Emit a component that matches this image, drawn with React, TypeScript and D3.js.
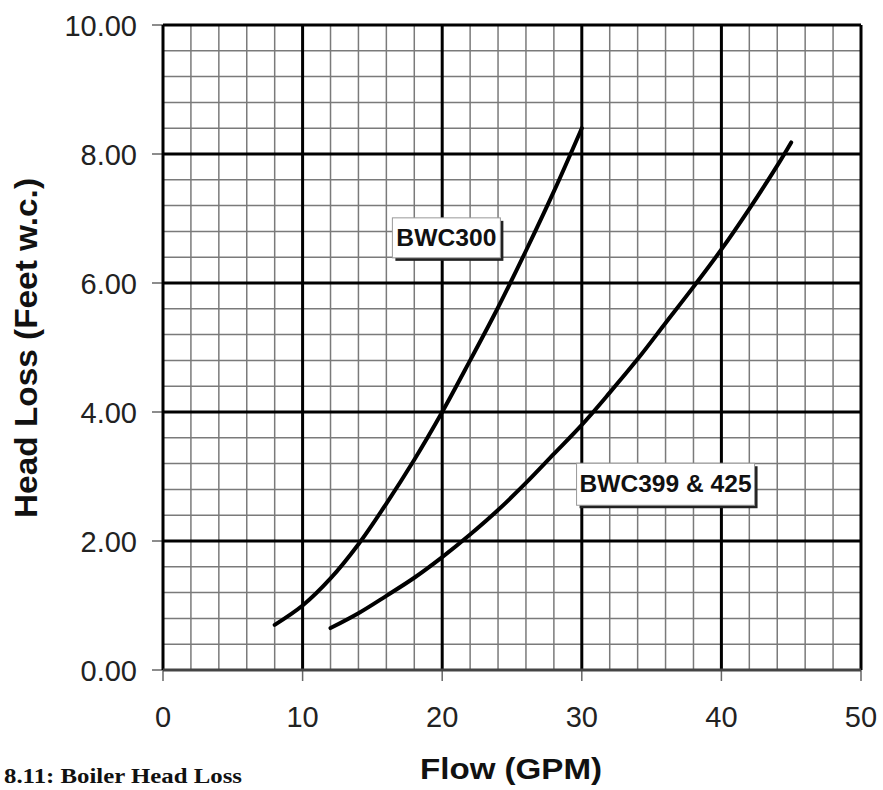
import React from 'react';
import * as d3 from 'd3';

const xTicks = [0, 10, 20, 30, 40, 50];
const yTicks = [0, 2, 4, 6, 8, 10];

const bwc300Flow = [8, 10, 12, 14, 16, 18, 20, 22, 24, 26, 28, 30];
const bwc300Head = [0.7, 1.0, 1.42, 1.95, 2.58, 3.26, 4.0, 4.8, 5.62, 6.5, 7.42, 8.4];

const bwc399Flow = [12, 14, 16, 18, 20, 22, 24, 26, 28, 30, 32, 34, 36, 38, 40, 42, 44, 45];
const bwc399Head = [0.65, 0.88, 1.15, 1.43, 1.75, 2.1, 2.48, 2.9, 3.35, 3.8, 4.3, 4.82, 5.38, 5.94, 6.52, 7.15, 7.82, 8.18];

const labelTexts = ['BWC300', 'BWC399 & 425'];
const labelFlow = [20.3, 36.0];
const labelHead = [6.7, 2.88];

const xTitle = 'Flow (GPM)';
const yTitle = 'Head Loss (Feet w.c.)';
const caption = '8.11: Boiler Head Loss';

export default function App() {
  const x = d3.scaleLinear().domain([0, 50]).range([163, 861]);
  const y = d3.scaleLinear().domain([0, 10]).range([670, 25]);
  const minorX = d3.range(0, 26).map((i) => i * 2);
  const minorY = d3.range(0, 26).map((i) => i * 0.4);
  const line = d3
    .line<[number, number]>()
    .x((d) => x(d[0]))
    .y((d) => y(d[1]))
    .curve(d3.curveCatmullRom.alpha(0.5));
  const s1 = line(bwc300Flow.map((f, i) => [f, bwc300Head[i]]));
  const s2 = line(bwc399Flow.map((f, i) => [f, bwc399Head[i]]));
  const boxW = [108, 178];
  const boxH = [40, 42];
  const txtLen = [100, 172];
  const sans = '"Liberation Sans", Arial, sans-serif';

  return (
    <svg
      width={883}
      height={790}
      style={{ position: 'absolute', left: 0, top: 0, background: '#fff' }}
    >
      <rect x={0} y={0} width={883} height={790} fill="#fff" />
      {minorX.map((v) => (
        <line key={'mx' + v} x1={x(v)} x2={x(v)} y1={y(0)} y2={y(10)} stroke="#7a7a7a" strokeWidth={1.5} />
      ))}
      {minorY.map((v, i) => (
        <line key={'my' + i} x1={x(0)} x2={x(50)} y1={y(v)} y2={y(v)} stroke="#7a7a7a" strokeWidth={1.5} />
      ))}
      {yTicks.map((v) => (
        <line key={'yt' + v} x1={x(0) - 11} x2={x(0)} y1={y(v)} y2={y(v)} stroke="#666" strokeWidth={1.5} />
      ))}
      {xTicks.map((v) => (
        <line key={'xt' + v} x1={x(v)} x2={x(v)} y1={y(0)} y2={y(0) + 11} stroke="#666" strokeWidth={1.5} />
      ))}
      {xTicks.map((v) => (
        <line key={'Mx' + v} x1={x(v)} x2={x(v)} y1={y(0)} y2={y(10)} stroke="#000" strokeWidth={3} />
      ))}
      {yTicks.map((v) => (
        <line
          key={'My' + v}
          x1={x(0)}
          x2={x(50)}
          y1={y(v)}
          y2={y(v)}
          stroke={v === 0 ? '#444' : '#000'}
          strokeWidth={3}
        />
      ))}
      <path d={s1 || ''} fill="none" stroke="#000" strokeWidth={4} strokeLinecap="round" />
      <path d={s2 || ''} fill="none" stroke="#000" strokeWidth={4} strokeLinecap="round" />
      {labelTexts.map((t, i) => {
        const cx = x(labelFlow[i]);
        const cy = y(labelHead[i]);
        return (
          <g key={'lb' + i}>
            <rect x={cx - boxW[i] / 2 + 3} y={cy - boxH[i] / 2 + 3} width={boxW[i]} height={boxH[i]} fill="#222" />
            <rect
              x={cx - boxW[i] / 2}
              y={cy - boxH[i] / 2}
              width={boxW[i]}
              height={boxH[i]}
              fill="#fff"
              stroke="#999"
              strokeWidth={1}
            />
            <text
              x={cx}
              y={cy + 8}
              textAnchor="middle"
              fontFamily={sans}
              fontWeight="bold"
              fontSize={23}
              textLength={txtLen[i]}
              lengthAdjust="spacingAndGlyphs"
              fill="#111"
            >
              {t}
            </text>
          </g>
        );
      })}
      {yTicks.map((v) => (
        <text
          key={'yl' + v}
          x={137}
          y={y(v) + 10.5}
          textAnchor="end"
          fontFamily={sans}
          fontSize={29}
          fill="#222"
        >
          {v.toFixed(2)}
        </text>
      ))}
      {xTicks.map((v) => (
        <text key={'xl' + v} x={x(v)} y={727} textAnchor="middle" fontFamily={sans} fontSize={29} fill="#222">
          {v}
        </text>
      ))}
      <text
        x={511}
        y={779}
        textAnchor="middle"
        fontFamily={sans}
        fontWeight="bold"
        fontSize={29}
        textLength={182}
        lengthAdjust="spacingAndGlyphs"
        fill="#111"
      >
        {xTitle}
      </text>
      <text
        transform="translate(37,348) rotate(-90)"
        textAnchor="middle"
        fontFamily={sans}
        fontWeight="bold"
        fontSize={32}
        textLength={340}
        lengthAdjust="spacingAndGlyphs"
        fill="#111"
      >
        {yTitle}
      </text>
      <text
        x={4}
        y={783}
        fontFamily='"Liberation Serif", "Times New Roman", serif'
        fontWeight="bold"
        fontSize={22}
        textLength={238}
        lengthAdjust="spacingAndGlyphs"
        fill="#111"
      >
        {caption}
      </text>
    </svg>
  );
}
